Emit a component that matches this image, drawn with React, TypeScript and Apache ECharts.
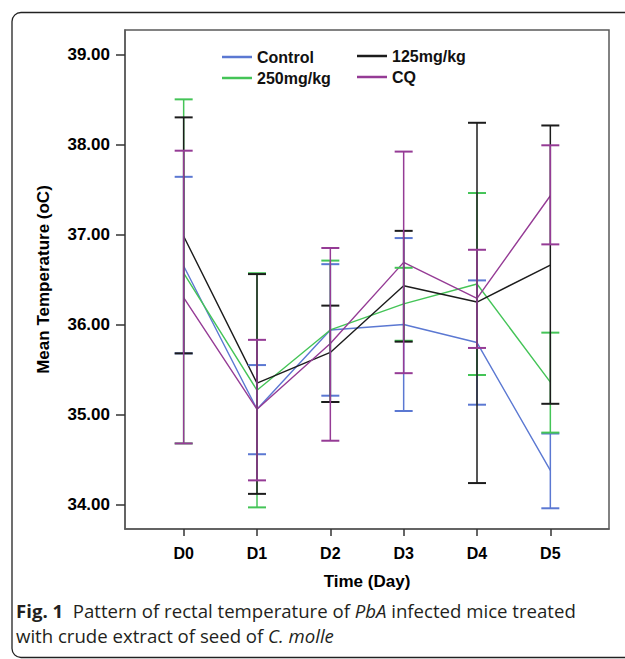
import React, { useEffect, useRef } from "react";
import * as echarts from "echarts";

const days = ["D0", "D1", "D2", "D3", "D4", "D5"];
const yTicks = [34, 35, 36, 37, 38, 39];

const controlMean = [36.65, 35.06, 35.94, 36.0, 35.8, 34.38];
const controlLow = [35.68, 34.56, 35.21, 35.04, 35.11, 33.96];
const controlHigh = [37.64, 35.55, 36.67, 36.96, 36.49, 34.79];

const mg125Mean = [36.98, 35.35, 35.69, 36.43, 36.25, 36.66];
const mg125Low = [35.68, 34.12, 35.14, 35.81, 34.24, 35.12];
const mg125High = [38.3, 36.56, 36.21, 37.04, 38.24, 38.21];

const mg250Mean = [36.57, 35.27, 35.94, 36.23, 36.45, 35.36];
const mg250Low = [34.68, 33.97, 35.14, 35.82, 35.44, 34.8];
const mg250High = [38.5, 36.57, 36.71, 36.63, 37.46, 35.91];

const cqMean = [36.3, 35.06, 35.79, 36.69, 36.29, 37.43];
const cqLow = [34.68, 34.27, 34.71, 35.46, 35.74, 36.89];
const cqHigh = [37.93, 35.83, 36.85, 37.92, 36.83, 37.99];

const groups = [
  { name: "Control", color: "#5b78d2", mean: controlMean, low: controlLow, high: controlHigh },
  { name: "250mg/kg", color: "#44c457", mean: mg250Mean, low: mg250Low, high: mg250High },
  { name: "125mg/kg", color: "#1c1c1c", mean: mg125Mean, low: mg125Low, high: mg125High },
  { name: "CQ", color: "#953b95", mean: cqMean, low: cqLow, high: cqHigh },
];

const legendPos: Record<string, [number, number]> = {
  Control: [222, 49],
  "125mg/kg": [357, 48],
  "250mg/kg": [222, 70],
  CQ: [357, 69],
};

const FONT = "'Liberation Sans', Arial, sans-serif";
const CAP_FONT = "'Open Sans', 'Noto Sans', sans-serif";

export default function App() {
  const ref = useRef<HTMLDivElement>(null);
  useEffect(() => {
    if (!ref.current) return;
    const chart = echarts.init(ref.current, undefined, { renderer: "svg" });
    const series: any[] = [];
    groups.forEach((g) => {
      series.push({
        name: g.name,
        type: "line",
        data: g.mean.map((v, i) => [i, v]),
        symbol: "none",
        lineStyle: { color: g.color, width: 1.4 },
        itemStyle: { color: g.color },
        z: 3,
      });
    });
    groups.forEach((g) => {
      series.push({
        name: g.name,
        type: "custom",
        data: g.low.map((v, i) => [i, v, g.high[i]]),
        encode: { x: 0, y: [1, 2] },
        itemStyle: { color: g.color },
        z: 4,
        renderItem: (params: any, api: any) => {
          const x = api.value(0);
          const lo = api.coord([x, api.value(1)]);
          const hi = api.coord([x, api.value(2)]);
          const hw = 9;
          const st = { stroke: g.color, lineWidth: 1.5 };
          return {
            type: "group",
            children: [
              { type: "line", shape: { x1: lo[0], y1: lo[1], x2: hi[0], y2: hi[1] }, style: st },
              { type: "line", shape: { x1: hi[0] - hw, y1: hi[1], x2: hi[0] + hw, y2: hi[1] }, style: { ...st, lineWidth: 2 } },
              { type: "line", shape: { x1: lo[0] - hw, y1: lo[1], x2: lo[0] + hw, y2: lo[1] }, style: { ...st, lineWidth: 2 } },
            ],
          };
        },
      });
    });

    const legends = Object.keys(legendPos).map((name) => ({
      data: [name],
      left: legendPos[name][0],
      top: legendPos[name][1],
      icon: "rect",
      itemWidth: 30,
      itemHeight: 2.5,
      padding: 0,
      textStyle: { fontSize: 16, fontWeight: "bold", color: "#111", fontFamily: FONT },
    }));

    chart.setOption({
      animation: false,
      backgroundColor: "#ffffff",
      grid: {
        left: 125,
        right: 16,
        top: 30,
        bottom: 130,
        show: true,
        borderColor: "#5a5a5a",
        borderWidth: 1.5,
        containLabel: false,
      },
      legend: legends,
      xAxis: {
        type: "value",
        min: -0.8,
        max: 5.8,
        name: "Time (Day)",
        nameLocation: "middle",
        nameGap: 44,
        nameTextStyle: { fontSize: 17, fontWeight: "bold", color: "#000", fontFamily: FONT },
        axisLine: { show: true, onZero: false, lineStyle: { color: "#5a5a5a", width: 1.5 } },
        axisTick: { show: true, customValues: [0, 1, 2, 3, 4, 5], length: 7, lineStyle: { color: "#333", width: 1.5 } },
        axisLabel: {
          customValues: [0, 1, 2, 3, 4, 5],
          formatter: (v: number) => days[Math.round(v)],
          margin: 16,
          fontSize: 16,
          fontWeight: "bold",
          color: "#000",
          fontFamily: FONT,
        },
        splitLine: { show: false },
      },
      yAxis: {
        type: "value",
        min: 33.73,
        max: 39.27,
        name: "Mean Temperature (oC)",
        nameLocation: "middle",
        nameGap: 73,
        nameTextStyle: { fontSize: 17, fontWeight: "bold", color: "#000", fontFamily: FONT },
        axisLine: { show: true, onZero: false, lineStyle: { color: "#5a5a5a", width: 1.5 } },
        axisTick: { show: true, customValues: yTicks, length: 9, lineStyle: { color: "#333", width: 1.5 } },
        axisLabel: {
          customValues: yTicks,
          formatter: (v: number) => v.toFixed(2),
          margin: 15,
          fontSize: 17,
          fontWeight: "bold",
          color: "#000",
          fontFamily: FONT,
        },
        splitLine: { show: false },
      },
      graphic: [
        {
          type: "rect",
          shape: { x: 12, y: 12.5, width: 700, height: 645, r: 9 },
          style: { fill: "none", stroke: "#222", lineWidth: 1.3 },
          silent: true,
        },
        {
          type: "text",
          left: 16,
          top: 598,
          style: {
            text: "{b|Fig. 1}  Pattern of rectal temperature of {i|PbA} infected mice treated\nwith crude extract of seed of {i|C. molle}",
            fontFamily: CAP_FONT,
            fontSize: 18.6,
            lineHeight: 25,
            fill: "#231f20",
            rich: {
              b: { fontWeight: "bold", fontSize: 18.6, lineHeight: 25, fontFamily: CAP_FONT, fill: "#231f20" },
              i: { fontStyle: "italic", fontSize: 18.6, lineHeight: 25, fontFamily: CAP_FONT, fill: "#231f20" },
            },
          },
        },
      ],
      series,
    });
    return () => chart.dispose();
  }, []);
  return (
    <div
      ref={ref}
      style={{ position: "absolute", left: 0, top: 0, width: 625, height: 659 }}
    />
  );
}
